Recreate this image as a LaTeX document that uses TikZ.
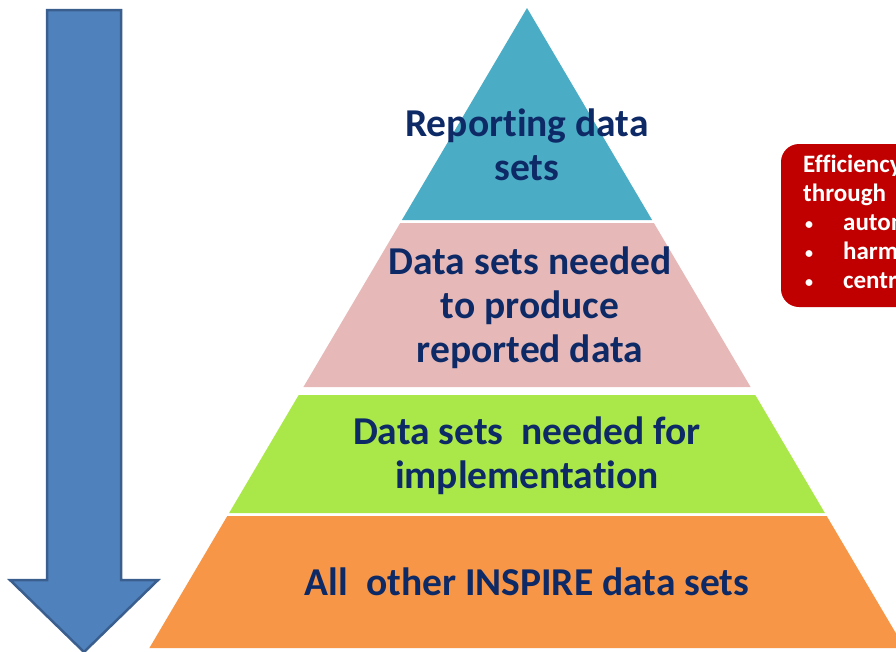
\documentclass[tikz,border=0pt]{standalone}
\usepackage{fontspec}
\setmainfont[Ligatures=NoCommon]{Carlito}
\definecolor{arrowfill}{HTML}{4F81BD}
\definecolor{arrowline}{HTML}{3A5F8E}
\definecolor{toplayer}{HTML}{4BACC6}
\definecolor{pinklayer}{HTML}{E6B9B8}
\definecolor{greenlayer}{HTML}{AAE84A}
\definecolor{orangelayer}{HTML}{F79646}
\definecolor{navytext}{HTML}{0E2A66}
\definecolor{redbox}{HTML}{C00000}
\newcommand{\boxbullet}{\makebox[40pt][l]{\hspace{2pt}\raisebox{1pt}{\fontsize{16}{16}\selectfont\textbullet}}}
\tikzset{
  layertext/.style={text=navytext, font=\fontsize{39.5}{44}\selectfont\bfseries, align=center, inner sep=0pt},
  boxtext/.style={text=white, font=\fontsize{25}{29}\selectfont\bfseries, align=left, inner sep=0pt, anchor=north west},
}
\begin{document}
\begin{tikzpicture}[x=1pt,y=-1pt]
\useasboundingbox (0,0) rectangle (896,651);
\begin{scope}
\clip (0,0) rectangle (896,651);
% arrow
\draw[fill=arrowfill, draw=arrowline, line width=2.5pt, line join=miter]
  (47,10) -- (121,10) -- (121,580) -- (158,580) -- (84,652) -- (10,580) -- (47,580) -- cycle;
% pyramid layers
\fill[toplayer] (527,8) -- (652.1,220) -- (401.9,220) -- cycle;
\fill[pinklayer] (400.2,223) -- (653.9,223) -- (750.6,387) -- (303.4,387) -- cycle;
\fill[greenlayer] (298.7,395) -- (755.3,395) -- (824.9,513) -- (229.1,513) -- cycle;
\fill[orangelayer] (227.3,516) -- (826.7,516) -- (904.6,648) -- (149.4,648) -- cycle;
% red box
\fill[redbox, rounded corners=18pt] (781,144) rectangle (940,307);
\node[boxtext] (eff) at (803,155) {Efficiency gains\\through\\
  \boxbullet automation\\
  \boxbullet harmonisation\\
  \boxbullet centralisation};
\end{scope}
% layer texts
\node[layertext] (rep) at (527,145) {Reporting data\\sets};
\node[layertext] (prod) at (530,308) {Data sets needed\\to produce\\reported data};
\node[layertext] (impl) at (527,456) {Data sets\ \ needed for\\implementation};
\node[layertext] (all) at (527,582) {All\ \ other INSPIRE data sets};
\end{tikzpicture}
\end{document}
